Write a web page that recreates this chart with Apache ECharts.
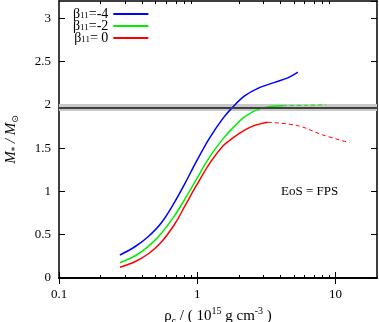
<!DOCTYPE html>
<html>
<head>
<meta charset="utf-8">
<script src="https://cdn.jsdelivr.net/npm/echarts@6/dist/echarts.min.js"></script>
<style>
html, body { margin: 0; padding: 0; background: #fff; }
#chart { width: 379px; height: 322px; }
</style>
</head>
<body>
<div id="chart"></div>
<script>
// central density (10^15 g/cm^3) vs mass
var rhoBlue = [0.276, 0.354, 0.441, 0.551, 0.688, 0.812, 0.987, 1.231, 1.536, 1.813, 2.203, 2.748, 3.627, 4.524, 5.344];
var massBlue = [0.266, 0.361, 0.477, 0.639, 0.879, 1.087, 1.347, 1.618, 1.844, 1.977, 2.104, 2.191, 2.260, 2.312, 2.378];

var rhoGreen = [0.276, 0.354, 0.441, 0.551, 0.688, 0.812, 0.987, 1.231, 1.536, 1.813, 2.203, 2.748, 3.434, 4.165];
var massGreen = [0.177, 0.254, 0.362, 0.517, 0.723, 0.908, 1.139, 1.399, 1.607, 1.734, 1.861, 1.948, 1.983, 1.991];
var rhoGreenDash = [4.165, 5.97, 8.57];
var massGreenDash = [1.991, 1.994, 2.0];

var rhoRed = [0.276, 0.354, 0.441, 0.551, 0.688, 0.812, 0.987, 1.231, 1.536, 1.813, 2.203, 2.601, 3.245];
var massRed = [0.124, 0.188, 0.277, 0.416, 0.624, 0.827, 1.069, 1.324, 1.526, 1.618, 1.708, 1.763, 1.800];
var rhoRedDash = [3.245, 5.344, 8.10, 12.62];
var massRedDash = [1.800, 1.760, 1.653, 1.564];

var legendNames = ['β11=-4', 'β11=-2', 'β11= 0'];
var obsMass = 1.97;
var obsBand = [1.93, 2.01];

var xMajorTicks = [0.1, 1, 10];
var xMinorTicks = [0.2, 0.3, 0.4, 0.5, 0.6, 0.7, 0.8, 0.9, 2, 3, 4, 5, 6, 7, 8, 9];

function pairs(xs, ys) {
    var out = [];
    for (var i = 0; i < xs.length; i++) out.push([xs[i], ys[i]]);
    return out;
}

var font = 'Liberation Serif';

function xAxisDef(pos, ticks, len, labels) {
    return {
        type: 'log',
        min: 0.1,
        max: 20,
        logBase: 10,
        position: pos,
        axisLine: { lineStyle: { color: '#000', width: 1.5 } },
        axisTick: { inside: true, length: len, customValues: ticks, lineStyle: { color: '#000' } },
        axisLabel: labels ? { fontFamily: font, fontSize: 13, color: '#000', margin: 10, customValues: xMajorTicks } : { show: false },
        splitLine: { show: false }
    };
}

var xBottom = xAxisDef('bottom', xMajorTicks, 6, true);
xBottom.name = '{a|ρ}{sub|c}{a| / ( 10}{sup|15}{a| g cm}{sup|-3}{a| )}';
xBottom.nameLocation = 'middle';
xBottom.nameGap = 20;
xBottom.nameTextStyle = {
    rich: {
        a: { fontFamily: font, fontSize: 15, color: '#000' },
        sub: { fontFamily: font, fontSize: 10, color: '#000', padding: [10, 0, 0, 0] },
        sup: { fontFamily: font, fontSize: 10, color: '#000', padding: [0, 0, 10, 0] }
    }
};

var curveStyle = function (name, color, xs, ys, dashed) {
    return {
        name: name,
        type: 'line',
        smooth: 0.35,
        symbol: 'none',
        color: color,
        lineStyle: dashed ? { width: 1, type: [4, 3] } : { width: 1.5 },
        data: pairs(xs, ys)
    };
};

var option = {
    animation: false,
    grid: { left: 59, right: 2, top: 1, bottom: 44, containLabel: false, outerBoundsMode: 'none' },
    legend: {
        orient: 'vertical',
        left: 68,
        top: 0,
        align: 'right',
        icon: 'rect',
        itemWidth: 35,
        itemHeight: 2,
        itemGap: -4,
        data: legendNames,
        formatter: function (name) {
            return '{a|β}{s|11}{a|' + name.slice(3) + '}';
        },
        textStyle: {
            rich: {
                a: { fontFamily: font, fontSize: 14, color: '#000', lineHeight: 12 },
                s: { fontFamily: font, fontSize: 9, color: '#000', lineHeight: 12, verticalAlign: 'bottom', padding: [6, 0, 0, 0] }
            }
        }
    },
    xAxis: [
        xBottom,
        xAxisDef('top', xMajorTicks, 6, false),
        xAxisDef('bottom', xMinorTicks, 3, false),
        xAxisDef('top', xMinorTicks, 3, false)
    ],
    yAxis: [{
        type: 'value',
        min: 0,
        max: 3.2,
        interval: 0.5,
        name: '{i|M}{sub|*}{n| / }{i|M}{sub|⊙}',
        nameLocation: 'middle',
        nameGap: 39,
        nameRotate: 90,
        nameTextStyle: {
            rich: {
                i: { fontFamily: font, fontStyle: 'italic', fontSize: 15, color: '#000' },
                n: { fontFamily: font, fontStyle: 'italic', fontSize: 15, color: '#000' },
                sub: { fontFamily: 'DejaVu Sans', fontSize: 9, color: '#000', padding: [8, 0, 0, 0] }
            }
        },
        axisLine: { show: true, lineStyle: { color: '#000', width: 1.5 } },
        axisTick: { show: true, inside: true, length: 6, lineStyle: { color: '#000' } },
        axisLabel: { fontFamily: font, fontSize: 13, color: '#000', margin: 8, showMaxLabel: false },
        splitLine: { show: false }
    }, {
        type: 'value',
        min: 0,
        max: 3.2,
        interval: 0.5,
        position: 'right',
        axisLine: { show: true, lineStyle: { color: '#000', width: 1.5 } },
        axisTick: { show: true, inside: true, length: 6, lineStyle: { color: '#000' } },
        axisLabel: { show: false },
        splitLine: { show: false }
    }],
    graphic: [{
        type: 'text',
        left: 281,
        top: 185,
        style: { text: 'EoS = FPS', fontFamily: font, fontSize: 13, fill: '#000' }
    }],
    series: [{
        name: 'band',
        type: 'line',
        data: [],
        silent: true,
        markArea: {
            silent: true,
            itemStyle: { color: '#c8c8c8' },
            data: [[{ yAxis: obsBand[0] }, { yAxis: obsBand[1] }]]
        },
        markLine: {
            silent: true,
            symbol: 'none',
            label: { show: false },
            lineStyle: { color: '#404040', type: 'solid', width: 2 },
            data: [{ yAxis: obsMass }]
        }
    },
        curveStyle(legendNames[0], '#0000ff', rhoBlue, massBlue, false),
        curveStyle(legendNames[1], '#00ee00', rhoGreen, massGreen, false),
        curveStyle('greenDash', '#00ee00', rhoGreenDash, massGreenDash, true),
        curveStyle(legendNames[2], '#ff0000', rhoRed, massRed, false),
        curveStyle('redDash', '#ff0000', rhoRedDash, massRedDash, true)
    ]
};

var myChart = echarts.init(document.getElementById('chart'));
myChart.setOption(option);
</script>
</body>
</html>
